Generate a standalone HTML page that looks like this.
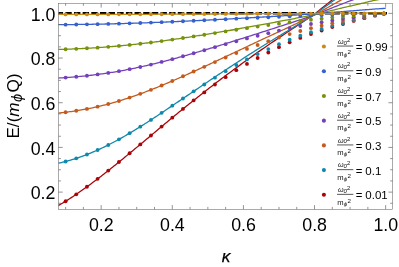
<!DOCTYPE html>
<html><head><meta charset="utf-8"><title>plot</title>
<style>html,body{margin:0;padding:0;background:#fff;}body{width:399px;height:267px;overflow:hidden;font-family:"Liberation Sans",sans-serif;}</style>
</head><body>
<svg width="399" height="267" viewBox="0 0 399 267" style="display:block;will-change:transform;transform:translateZ(0)">
<rect width="399" height="267" fill="#fff"/>
<line x1="58.50" y1="13.35" x2="386.95" y2="13.35" stroke="#000" stroke-width="2.5" stroke-dasharray="6.4 2.25" stroke-dashoffset="1.8"/>
<path d="M58.50,205.44 L59.92,204.64 L61.34,203.82 L62.77,202.99 L64.19,202.13 L65.61,201.26 L67.03,200.38 L68.45,199.48 L69.88,198.56 L71.30,197.63 L72.72,196.69 L74.14,195.74 L75.57,194.78 L76.99,193.81 L78.41,192.83 L79.83,191.84 L81.26,190.84 L82.68,189.84 L84.10,188.83 L85.52,187.81 L86.95,186.78 L88.37,185.74 L89.79,184.70 L91.21,183.65 L92.64,182.59 L94.06,181.53 L95.48,180.46 L96.90,179.39 L98.33,178.31 L99.75,177.23 L101.17,176.14 L102.59,175.04 L104.01,173.94 L105.44,172.83 L106.86,171.73 L108.28,170.61 L109.70,169.48 L111.13,168.35 L112.55,167.21 L113.97,166.07 L115.39,164.92 L116.82,163.77 L118.24,162.62 L119.66,161.46 L121.08,160.30 L122.51,159.14 L123.93,157.97 L125.35,156.79 L126.77,155.62 L128.20,154.44 L129.62,153.26 L131.04,152.09 L132.46,150.91 L133.89,149.74 L135.31,148.56 L136.73,147.38 L138.15,146.20 L139.57,145.01 L141.00,143.82 L142.42,142.64 L143.84,141.46 L145.26,140.27 L146.69,139.08 L148.11,137.89 L149.53,136.70 L150.95,135.50 L152.38,134.31 L153.80,133.12 L155.22,131.93 L156.64,130.74 L158.07,129.55 L159.49,128.35 L160.91,127.15 L162.33,125.96 L163.76,124.77 L165.18,123.59 L166.60,122.40 L168.02,121.21 L169.45,120.02 L170.87,118.83 L172.29,117.63 L173.71,116.47 L175.13,115.31 L176.56,114.15 L177.98,112.99 L179.40,111.83 L180.82,110.67 L182.25,109.51 L183.67,108.36 L185.09,107.22 L186.51,106.08 L187.94,104.94 L189.36,103.80 L190.78,102.67 L192.20,101.53 L193.63,100.39 L195.05,99.27 L196.47,98.15 L197.89,97.02 L199.32,95.90 L200.74,94.78 L202.16,93.66 L203.58,92.53 L205.01,91.42 L206.43,90.31 L207.85,89.21 L209.27,88.10 L210.69,87.00 L212.12,85.90 L213.54,84.79 L214.96,83.69 L216.38,82.61 L217.81,81.53 L219.23,80.46 L220.65,79.38 L222.07,78.31 L223.50,77.23 L224.92,76.16 L226.34,75.10 L227.76,74.04 L229.19,72.99 L230.61,71.94 L232.03,70.89 L233.45,69.84 L234.88,68.79 L236.30,67.75 L237.72,66.70 L239.14,65.66 L240.57,64.62 L241.99,63.57 L243.41,62.53 L244.83,61.50 L246.25,60.46 L247.68,59.43 L249.10,58.42 L250.52,57.40 L251.94,56.39 L253.37,55.38 L254.79,54.37 L256.21,53.36 L257.63,52.35 L259.06,51.37 L260.48,50.38 L261.90,49.40 L263.32,48.42 L264.75,47.44 L266.17,46.46 L267.59,45.49 L269.01,44.51 L270.44,43.54 L271.86,42.57 L273.28,41.60 L274.70,40.64 L276.13,39.67 L277.55,38.71 L278.97,37.75 L280.39,36.80 L281.81,35.85 L283.24,34.91 L284.66,33.97 L286.08,33.03 L287.50,32.09 L288.93,31.15 L290.35,30.20 L291.77,29.25 L293.19,28.30 L294.62,27.35 L296.04,26.40 L297.46,25.45 L298.88,24.50 L300.31,23.56 L301.73,22.61 L303.15,21.65 L304.57,20.70 L306.00,19.75 L307.42,18.81 L308.84,17.86 L310.26,16.92 L311.69,15.96 L313.11,14.98 L314.53,14.01 L315.95,12.97 L317.37,11.81 L318.80,10.65 L320.22,9.50 L321.64,8.34 L323.06,7.21 L324.49,6.08 L325.91,4.95 L327.33,3.82 L328.75,2.69 L330.18,1.56 L331.60,0.43 L333.02,-0.68 L334.44,-1.77 L335.87,-2.87 L337.29,-3.96 L338.71,-5.05 L340.13,-6.14 L341.56,-7.24 L342.98,-8.33 L344.40,-9.32 L345.82,-10.31 L347.25,-11.30 L348.67,-12.28 L350.09,-13.27 L351.51,-14.25 L352.93,-15.25 L354.36,-16.28 L355.78,-17.31 L357.20,-18.33 L358.62,-19.36 L360.05,-20.39 L361.47,-21.41 L362.89,-22.44 L364.31,-23.46 L365.74,-24.47 L367.16,-25.47 L368.58,-26.48 L370.00,-27.48 L371.43,-28.48 L372.85,-29.49 L374.27,-30.49 L375.69,-31.49 L377.12,-32.17 L378.54,-32.85 L379.96,-33.53 L381.38,-34.20 L382.81,-34.87 L384.23,-35.54 L385.65,-36.20" fill="none" stroke="#A90408" stroke-width="1.28" stroke-linejoin="round"/>
<circle cx="65.61" cy="201.26" r="1.92" fill="#A90408"/>
<circle cx="76.28" cy="194.30" r="1.92" fill="#A90408"/>
<circle cx="86.95" cy="186.78" r="1.92" fill="#A90408"/>
<circle cx="97.61" cy="178.85" r="1.92" fill="#A90408"/>
<circle cx="108.28" cy="170.61" r="1.92" fill="#A90408"/>
<circle cx="118.95" cy="162.04" r="1.92" fill="#A90408"/>
<circle cx="129.62" cy="153.26" r="1.92" fill="#A90408"/>
<circle cx="140.29" cy="144.41" r="1.92" fill="#A90408"/>
<circle cx="150.95" cy="135.50" r="1.92" fill="#A90408"/>
<circle cx="161.62" cy="126.55" r="1.92" fill="#A90408"/>
<circle cx="172.29" cy="117.63" r="1.92" fill="#A90408"/>
<circle cx="182.96" cy="108.92" r="1.92" fill="#A90408"/>
<circle cx="193.63" cy="100.39" r="1.92" fill="#A90408"/>
<circle cx="204.29" cy="92.40" r="1.92" fill="#A90408"/>
<circle cx="214.96" cy="84.54" r="1.92" fill="#A90408"/>
<circle cx="225.63" cy="77.19" r="1.92" fill="#A90408"/>
<circle cx="236.30" cy="70.20" r="1.92" fill="#A90408"/>
<circle cx="246.97" cy="63.93" r="1.92" fill="#A90408"/>
<circle cx="257.63" cy="58.03" r="1.92" fill="#A90408"/>
<circle cx="268.30" cy="52.47" r="1.92" fill="#A90408"/>
<circle cx="278.97" cy="47.19" r="1.92" fill="#A90408"/>
<circle cx="289.64" cy="42.25" r="1.92" fill="#A90408"/>
<circle cx="300.31" cy="37.88" r="1.92" fill="#A90408"/>
<circle cx="310.97" cy="34.00" r="1.92" fill="#A90408"/>
<circle cx="321.64" cy="30.52" r="1.92" fill="#A90408"/>
<circle cx="332.31" cy="27.02" r="1.92" fill="#A90408"/>
<circle cx="342.98" cy="24.06" r="1.92" fill="#A90408"/>
<circle cx="353.65" cy="20.94" r="1.92" fill="#A90408"/>
<circle cx="364.31" cy="18.15" r="1.92" fill="#A90408"/>
<circle cx="374.98" cy="15.65" r="1.92" fill="#A90408"/>
<circle cx="383.87" cy="13.79" r="1.92" fill="#A90408"/>
<path d="M58.50,163.13 L59.92,162.83 L61.34,162.51 L62.77,162.17 L64.19,161.83 L65.61,161.47 L67.03,161.09 L68.45,160.71 L69.88,160.31 L71.30,159.89 L72.72,159.47 L74.14,159.03 L75.57,158.57 L76.99,158.11 L78.41,157.63 L79.83,157.14 L81.26,156.64 L82.68,156.13 L84.10,155.60 L85.52,155.06 L86.95,154.52 L88.37,153.95 L89.79,153.38 L91.21,152.80 L92.64,152.20 L94.06,151.60 L95.48,150.98 L96.90,150.36 L98.33,149.72 L99.75,149.07 L101.17,148.41 L102.59,147.74 L104.01,147.06 L105.44,146.37 L106.86,145.68 L108.28,144.97 L109.70,144.25 L111.13,143.51 L112.55,142.77 L113.97,142.02 L115.39,141.26 L116.82,140.49 L118.24,139.71 L119.66,138.92 L121.08,138.13 L122.51,137.32 L123.93,136.51 L125.35,135.69 L126.77,134.86 L128.20,134.02 L129.62,133.18 L131.04,132.34 L132.46,131.49 L133.89,130.63 L135.31,129.77 L136.73,128.90 L138.15,128.03 L139.57,127.14 L141.00,126.26 L142.42,125.37 L143.84,124.47 L145.26,123.57 L146.69,122.67 L148.11,121.75 L149.53,120.83 L150.95,119.91 L152.38,118.99 L153.80,118.06 L155.22,117.13 L156.64,116.19 L158.07,115.25 L159.49,114.30 L160.91,113.35 L162.33,112.40 L163.76,111.45 L165.18,110.50 L166.60,109.54 L168.02,108.58 L169.45,107.62 L170.87,106.65 L172.29,105.68 L173.71,104.73 L175.13,103.77 L176.56,102.82 L177.98,101.86 L179.40,100.90 L180.82,99.94 L182.25,98.97 L183.67,98.01 L185.09,97.06 L186.51,96.10 L187.94,95.15 L189.36,94.19 L190.78,93.23 L192.20,92.27 L193.63,91.31 L195.05,90.35 L196.47,89.40 L197.89,88.44 L199.32,87.48 L200.74,86.52 L202.16,85.56 L203.58,84.60 L205.01,83.64 L206.43,82.69 L207.85,81.74 L209.27,80.78 L210.69,79.83 L212.12,78.87 L213.54,77.91 L214.96,76.96 L216.38,76.02 L217.81,75.08 L219.23,74.14 L220.65,73.20 L222.07,72.26 L223.50,71.32 L224.92,70.38 L226.34,69.44 L227.76,68.52 L229.19,67.59 L230.61,66.66 L232.03,65.74 L233.45,64.81 L234.88,63.88 L236.30,62.96 L237.72,62.03 L239.14,61.11 L240.57,60.18 L241.99,59.26 L243.41,58.33 L244.83,57.41 L246.25,56.49 L247.68,55.57 L249.10,54.66 L250.52,53.76 L251.94,52.85 L253.37,51.95 L254.79,51.04 L256.21,50.14 L257.63,49.24 L259.06,48.35 L260.48,47.47 L261.90,46.58 L263.32,45.70 L264.75,44.82 L266.17,43.94 L267.59,43.06 L269.01,42.18 L270.44,41.31 L271.86,40.43 L273.28,39.56 L274.70,38.68 L276.13,37.81 L277.55,36.94 L278.97,36.07 L280.39,35.21 L281.81,34.36 L283.24,33.50 L284.66,32.64 L286.08,31.79 L287.50,30.94 L288.93,30.09 L290.35,29.23 L291.77,28.36 L293.19,27.49 L294.62,26.63 L296.04,25.77 L297.46,24.90 L298.88,24.04 L300.31,23.18 L301.73,22.31 L303.15,21.45 L304.57,20.58 L306.00,19.71 L307.42,18.85 L308.84,17.99 L310.26,17.12 L311.69,16.25 L313.11,15.36 L314.53,14.47 L315.95,13.52 L317.37,12.47 L318.80,11.41 L320.22,10.36 L321.64,9.31 L323.06,8.28 L324.49,7.25 L325.91,6.22 L327.33,5.18 L328.75,4.15 L330.18,3.12 L331.60,2.09 L333.02,1.07 L334.44,0.07 L335.87,-0.93 L337.29,-1.93 L338.71,-2.94 L340.13,-3.94 L341.56,-4.94 L342.98,-5.94 L344.40,-6.85 L345.82,-7.76 L347.25,-8.67 L348.67,-9.58 L350.09,-10.49 L351.51,-11.40 L352.93,-12.31 L354.36,-13.26 L355.78,-14.21 L357.20,-15.15 L358.62,-16.10 L360.05,-17.05 L361.47,-17.99 L362.89,-18.94 L364.31,-19.88 L365.74,-20.81 L367.16,-21.74 L368.58,-22.67 L370.00,-23.59 L371.43,-24.52 L372.85,-25.45 L374.27,-26.37 L375.69,-27.30 L377.12,-27.94 L378.54,-28.57 L379.96,-29.20 L381.38,-29.83 L382.81,-30.46 L384.23,-31.08 L385.65,-31.70" fill="none" stroke="#1088AC" stroke-width="1.28" stroke-linejoin="round"/>
<circle cx="65.61" cy="161.47" r="1.92" fill="#1088AC"/>
<circle cx="76.28" cy="158.34" r="1.92" fill="#1088AC"/>
<circle cx="86.95" cy="154.52" r="1.92" fill="#1088AC"/>
<circle cx="97.61" cy="150.04" r="1.92" fill="#1088AC"/>
<circle cx="108.28" cy="144.97" r="1.92" fill="#1088AC"/>
<circle cx="118.95" cy="139.32" r="1.92" fill="#1088AC"/>
<circle cx="129.62" cy="133.18" r="1.92" fill="#1088AC"/>
<circle cx="140.29" cy="126.70" r="1.92" fill="#1088AC"/>
<circle cx="150.95" cy="119.91" r="1.92" fill="#1088AC"/>
<circle cx="161.62" cy="112.87" r="1.92" fill="#1088AC"/>
<circle cx="172.29" cy="105.68" r="1.92" fill="#1088AC"/>
<circle cx="182.96" cy="98.49" r="1.92" fill="#1088AC"/>
<circle cx="193.63" cy="91.31" r="1.92" fill="#1088AC"/>
<circle cx="204.29" cy="84.46" r="1.92" fill="#1088AC"/>
<circle cx="214.96" cy="77.65" r="1.92" fill="#1088AC"/>
<circle cx="225.63" cy="71.20" r="1.92" fill="#1088AC"/>
<circle cx="236.30" cy="65.01" r="1.92" fill="#1088AC"/>
<circle cx="246.97" cy="59.41" r="1.92" fill="#1088AC"/>
<circle cx="257.63" cy="54.10" r="1.92" fill="#1088AC"/>
<circle cx="268.30" cy="49.07" r="1.92" fill="#1088AC"/>
<circle cx="278.97" cy="44.28" r="1.92" fill="#1088AC"/>
<circle cx="289.64" cy="39.79" r="1.92" fill="#1088AC"/>
<circle cx="300.31" cy="35.79" r="1.92" fill="#1088AC"/>
<circle cx="310.97" cy="32.24" r="1.92" fill="#1088AC"/>
<circle cx="321.64" cy="29.04" r="1.92" fill="#1088AC"/>
<circle cx="332.31" cy="25.84" r="1.92" fill="#1088AC"/>
<circle cx="342.98" cy="23.13" r="1.92" fill="#1088AC"/>
<circle cx="353.65" cy="20.27" r="1.92" fill="#1088AC"/>
<circle cx="364.31" cy="17.73" r="1.92" fill="#1088AC"/>
<circle cx="374.98" cy="15.45" r="1.92" fill="#1088AC"/>
<circle cx="383.87" cy="13.75" r="1.92" fill="#1088AC"/>
<path d="M58.50,113.04 L59.92,112.90 L61.34,112.75 L62.77,112.60 L64.19,112.44 L65.61,112.27 L67.03,112.09 L68.45,111.91 L69.88,111.72 L71.30,111.53 L72.72,111.32 L74.14,111.11 L75.57,110.90 L76.99,110.67 L78.41,110.44 L79.83,110.21 L81.26,109.96 L82.68,109.71 L84.10,109.45 L85.52,109.19 L86.95,108.92 L88.37,108.64 L89.79,108.36 L91.21,108.06 L92.64,107.77 L94.06,107.46 L95.48,107.15 L96.90,106.83 L98.33,106.50 L99.75,106.17 L101.17,105.83 L102.59,105.48 L104.01,105.13 L105.44,104.77 L106.86,104.40 L108.28,104.03 L109.70,103.65 L111.13,103.26 L112.55,102.86 L113.97,102.46 L115.39,102.04 L116.82,101.63 L118.24,101.20 L119.66,100.77 L121.08,100.34 L122.51,99.89 L123.93,99.44 L125.35,98.98 L126.77,98.52 L128.20,98.05 L129.62,97.57 L131.04,97.10 L132.46,96.61 L133.89,96.12 L135.31,95.63 L136.73,95.12 L138.15,94.62 L139.57,94.10 L141.00,93.58 L142.42,93.06 L143.84,92.53 L145.26,92.00 L146.69,91.46 L148.11,90.91 L149.53,90.36 L150.95,89.81 L152.38,89.25 L153.80,88.69 L155.22,88.12 L156.64,87.54 L158.07,86.97 L159.49,86.38 L160.91,85.79 L162.33,85.20 L163.76,84.61 L165.18,84.01 L166.60,83.41 L168.02,82.80 L169.45,82.19 L170.87,81.58 L172.29,80.96 L173.71,80.35 L175.13,79.73 L176.56,79.12 L177.98,78.50 L179.40,77.87 L180.82,77.24 L182.25,76.61 L183.67,75.98 L185.09,75.35 L186.51,74.72 L187.94,74.09 L189.36,73.45 L190.78,72.81 L192.20,72.17 L193.63,71.52 L195.05,70.88 L196.47,70.23 L197.89,69.58 L199.32,68.93 L200.74,68.28 L202.16,67.62 L203.58,66.96 L205.01,66.31 L206.43,65.65 L207.85,64.99 L209.27,64.33 L210.69,63.67 L212.12,63.00 L213.54,62.33 L214.96,61.67 L216.38,61.01 L217.81,60.34 L219.23,59.68 L220.65,59.02 L222.07,58.35 L223.50,57.68 L224.92,57.01 L226.34,56.35 L227.76,55.68 L229.19,55.02 L230.61,54.35 L232.03,53.69 L233.45,53.02 L234.88,52.35 L236.30,51.68 L237.72,51.01 L239.14,50.34 L240.57,49.66 L241.99,48.99 L243.41,48.31 L244.83,47.64 L246.25,46.96 L247.68,46.29 L249.10,45.62 L250.52,44.95 L251.94,44.28 L253.37,43.61 L254.79,42.94 L256.21,42.27 L257.63,41.60 L259.06,40.93 L260.48,40.27 L261.90,39.61 L263.32,38.95 L264.75,38.29 L266.17,37.63 L267.59,36.97 L269.01,36.30 L270.44,35.64 L271.86,34.98 L273.28,34.32 L274.70,33.66 L276.13,32.99 L277.55,32.33 L278.97,31.67 L280.39,31.02 L281.81,30.36 L283.24,29.71 L284.66,29.05 L286.08,28.40 L287.50,27.74 L288.93,27.09 L290.35,26.43 L291.77,25.76 L293.19,25.10 L294.62,24.43 L296.04,23.76 L297.46,23.10 L298.88,22.43 L300.31,21.77 L301.73,21.09 L303.15,20.42 L304.57,19.75 L306.00,19.08 L307.42,18.41 L308.84,17.74 L310.26,17.06 L311.69,16.38 L313.11,15.69 L314.53,14.99 L315.95,14.26 L317.37,13.44 L318.80,12.62 L320.22,11.81 L321.64,10.99 L323.06,10.18 L324.49,9.38 L325.91,8.58 L327.33,7.77 L328.75,6.96 L330.18,6.15 L331.60,5.34 L333.02,4.54 L334.44,3.76 L335.87,2.97 L337.29,2.18 L338.71,1.39 L340.13,0.60 L341.56,-0.19 L342.98,-0.98 L344.40,-1.71 L345.82,-2.43 L347.25,-3.15 L348.67,-3.88 L350.09,-4.60 L351.51,-5.33 L352.93,-6.06 L354.36,-6.81 L355.78,-7.57 L357.20,-8.32 L358.62,-9.08 L360.05,-9.84 L361.47,-10.59 L362.89,-11.35 L364.31,-12.11 L365.74,-12.85 L367.16,-13.60 L368.58,-14.34 L370.00,-15.09 L371.43,-15.83 L372.85,-16.58 L374.27,-17.32 L375.69,-18.07 L377.12,-18.59 L378.54,-19.12 L379.96,-19.63 L381.38,-20.15 L382.81,-20.67 L384.23,-21.18 L385.65,-21.69" fill="none" stroke="#C25C1E" stroke-width="1.28" stroke-linejoin="round"/>
<circle cx="65.61" cy="112.27" r="1.92" fill="#C25C1E"/>
<circle cx="76.28" cy="110.79" r="1.92" fill="#C25C1E"/>
<circle cx="86.95" cy="108.92" r="1.92" fill="#C25C1E"/>
<circle cx="97.61" cy="106.67" r="1.92" fill="#C25C1E"/>
<circle cx="108.28" cy="104.03" r="1.92" fill="#C25C1E"/>
<circle cx="118.95" cy="100.99" r="1.92" fill="#C25C1E"/>
<circle cx="129.62" cy="97.57" r="1.92" fill="#C25C1E"/>
<circle cx="140.29" cy="93.84" r="1.92" fill="#C25C1E"/>
<circle cx="150.95" cy="89.81" r="1.92" fill="#C25C1E"/>
<circle cx="161.62" cy="85.50" r="1.92" fill="#C25C1E"/>
<circle cx="172.29" cy="80.96" r="1.92" fill="#C25C1E"/>
<circle cx="182.96" cy="76.29" r="1.92" fill="#C25C1E"/>
<circle cx="193.63" cy="71.52" r="1.92" fill="#C25C1E"/>
<circle cx="204.29" cy="66.85" r="1.92" fill="#C25C1E"/>
<circle cx="214.96" cy="62.12" r="1.92" fill="#C25C1E"/>
<circle cx="225.63" cy="57.54" r="1.92" fill="#C25C1E"/>
<circle cx="236.30" cy="53.07" r="1.92" fill="#C25C1E"/>
<circle cx="246.97" cy="48.94" r="1.92" fill="#C25C1E"/>
<circle cx="257.63" cy="44.98" r="1.92" fill="#C25C1E"/>
<circle cx="268.30" cy="41.18" r="1.92" fill="#C25C1E"/>
<circle cx="278.97" cy="37.53" r="1.92" fill="#C25C1E"/>
<circle cx="289.64" cy="34.08" r="1.92" fill="#C25C1E"/>
<circle cx="300.31" cy="30.97" r="1.92" fill="#C25C1E"/>
<circle cx="310.97" cy="28.19" r="1.92" fill="#C25C1E"/>
<circle cx="321.64" cy="25.67" r="1.92" fill="#C25C1E"/>
<circle cx="332.31" cy="23.15" r="1.92" fill="#C25C1E"/>
<circle cx="342.98" cy="21.01" r="1.92" fill="#C25C1E"/>
<circle cx="353.65" cy="18.77" r="1.92" fill="#C25C1E"/>
<circle cx="364.31" cy="16.77" r="1.92" fill="#C25C1E"/>
<circle cx="374.98" cy="14.99" r="1.92" fill="#C25C1E"/>
<circle cx="383.87" cy="13.66" r="1.92" fill="#C25C1E"/>
<path d="M58.50,78.04 L59.92,77.96 L61.34,77.88 L62.77,77.79 L64.19,77.70 L65.61,77.61 L67.03,77.51 L68.45,77.41 L69.88,77.30 L71.30,77.19 L72.72,77.08 L74.14,76.96 L75.57,76.84 L76.99,76.71 L78.41,76.58 L79.83,76.45 L81.26,76.31 L82.68,76.17 L84.10,76.03 L85.52,75.88 L86.95,75.72 L88.37,75.57 L89.79,75.41 L91.21,75.24 L92.64,75.07 L94.06,74.90 L95.48,74.72 L96.90,74.54 L98.33,74.35 L99.75,74.16 L101.17,73.97 L102.59,73.77 L104.01,73.57 L105.44,73.36 L106.86,73.15 L108.28,72.93 L109.70,72.71 L111.13,72.49 L112.55,72.26 L113.97,72.03 L115.39,71.79 L116.82,71.55 L118.24,71.30 L119.66,71.05 L121.08,70.79 L122.51,70.54 L123.93,70.27 L125.35,70.01 L126.77,69.73 L128.20,69.46 L129.62,69.18 L131.04,68.90 L132.46,68.61 L133.89,68.32 L135.31,68.03 L136.73,67.73 L138.15,67.43 L139.57,67.12 L141.00,66.82 L142.42,66.50 L143.84,66.19 L145.26,65.87 L146.69,65.55 L148.11,65.22 L149.53,64.89 L150.95,64.55 L152.38,64.22 L153.80,63.88 L155.22,63.53 L156.64,63.18 L158.07,62.83 L159.49,62.48 L160.91,62.12 L162.33,61.76 L163.76,61.40 L165.18,61.03 L166.60,60.66 L168.02,60.29 L169.45,59.91 L170.87,59.53 L172.29,59.15 L173.71,58.77 L175.13,58.39 L176.56,58.01 L177.98,57.62 L179.40,57.23 L180.82,56.84 L182.25,56.45 L183.67,56.05 L185.09,55.66 L186.51,55.26 L187.94,54.86 L189.36,54.46 L190.78,54.06 L192.20,53.65 L193.63,53.24 L195.05,52.83 L196.47,52.42 L197.89,52.01 L199.32,51.59 L200.74,51.17 L202.16,50.75 L203.58,50.33 L205.01,49.91 L206.43,49.48 L207.85,49.06 L209.27,48.63 L210.69,48.20 L212.12,47.77 L213.54,47.34 L214.96,46.90 L216.38,46.47 L217.81,46.04 L219.23,45.61 L220.65,45.18 L222.07,44.74 L223.50,44.30 L224.92,43.86 L226.34,43.42 L227.76,42.98 L229.19,42.54 L230.61,42.10 L232.03,41.66 L233.45,41.22 L234.88,40.77 L236.30,40.33 L237.72,39.88 L239.14,39.43 L240.57,38.98 L241.99,38.53 L243.41,38.08 L244.83,37.62 L246.25,37.17 L247.68,36.71 L249.10,36.26 L250.52,35.81 L251.94,35.36 L253.37,34.90 L254.79,34.45 L256.21,33.99 L257.63,33.54 L259.06,33.09 L260.48,32.64 L261.90,32.18 L263.32,31.73 L264.75,31.28 L266.17,30.82 L267.59,30.37 L269.01,29.91 L270.44,29.46 L271.86,29.00 L273.28,28.55 L274.70,28.09 L276.13,27.63 L277.55,27.17 L278.97,26.71 L280.39,26.26 L281.81,25.80 L283.24,25.35 L284.66,24.89 L286.08,24.43 L287.50,23.98 L288.93,23.52 L290.35,23.06 L291.77,22.59 L293.19,22.12 L294.62,21.65 L296.04,21.19 L297.46,20.72 L298.88,20.25 L300.31,19.78 L301.73,19.31 L303.15,18.83 L304.57,18.36 L306.00,17.88 L307.42,17.40 L308.84,16.93 L310.26,16.45 L311.69,15.97 L313.11,15.47 L314.53,14.98 L315.95,14.46 L317.37,13.88 L318.80,13.30 L320.22,12.72 L321.64,12.14 L323.06,11.56 L324.49,10.99 L325.91,10.42 L327.33,9.84 L328.75,9.27 L330.18,8.69 L331.60,8.11 L333.02,7.53 L334.44,6.97 L335.87,6.40 L337.29,5.83 L338.71,5.26 L340.13,4.69 L341.56,4.12 L342.98,3.55 L344.40,3.02 L345.82,2.50 L347.25,1.97 L348.67,1.45 L350.09,0.92 L351.51,0.39 L352.93,-0.14 L354.36,-0.69 L355.78,-1.24 L357.20,-1.80 L358.62,-2.35 L360.05,-2.90 L361.47,-3.46 L362.89,-4.01 L364.31,-4.57 L365.74,-5.11 L367.16,-5.66 L368.58,-6.21 L370.00,-6.76 L371.43,-7.31 L372.85,-7.86 L374.27,-8.41 L375.69,-8.96 L377.12,-9.35 L378.54,-9.74 L379.96,-10.13 L381.38,-10.52 L382.81,-10.91 L384.23,-11.29 L385.65,-11.68" fill="none" stroke="#7440BA" stroke-width="1.28" stroke-linejoin="round"/>
<circle cx="65.61" cy="77.61" r="1.92" fill="#7440BA"/>
<circle cx="76.28" cy="76.78" r="1.92" fill="#7440BA"/>
<circle cx="86.95" cy="75.72" r="1.92" fill="#7440BA"/>
<circle cx="97.61" cy="74.45" r="1.92" fill="#7440BA"/>
<circle cx="108.28" cy="72.93" r="1.92" fill="#7440BA"/>
<circle cx="118.95" cy="71.18" r="1.92" fill="#7440BA"/>
<circle cx="129.62" cy="69.18" r="1.92" fill="#7440BA"/>
<circle cx="140.29" cy="66.97" r="1.92" fill="#7440BA"/>
<circle cx="150.95" cy="64.55" r="1.92" fill="#7440BA"/>
<circle cx="161.62" cy="61.94" r="1.92" fill="#7440BA"/>
<circle cx="172.29" cy="59.15" r="1.92" fill="#7440BA"/>
<circle cx="182.96" cy="56.25" r="1.92" fill="#7440BA"/>
<circle cx="193.63" cy="53.24" r="1.92" fill="#7440BA"/>
<circle cx="204.29" cy="50.25" r="1.92" fill="#7440BA"/>
<circle cx="214.96" cy="47.19" r="1.92" fill="#7440BA"/>
<circle cx="225.63" cy="44.18" r="1.92" fill="#7440BA"/>
<circle cx="236.30" cy="41.21" r="1.92" fill="#7440BA"/>
<circle cx="246.97" cy="38.43" r="1.92" fill="#7440BA"/>
<circle cx="257.63" cy="35.74" r="1.92" fill="#7440BA"/>
<circle cx="268.30" cy="33.13" r="1.92" fill="#7440BA"/>
<circle cx="278.97" cy="30.60" r="1.92" fill="#7440BA"/>
<circle cx="289.64" cy="28.18" r="1.92" fill="#7440BA"/>
<circle cx="300.31" cy="25.99" r="1.92" fill="#7440BA"/>
<circle cx="310.97" cy="24.01" r="1.92" fill="#7440BA"/>
<circle cx="321.64" cy="22.21" r="1.92" fill="#7440BA"/>
<circle cx="332.31" cy="20.40" r="1.92" fill="#7440BA"/>
<circle cx="342.98" cy="18.86" r="1.92" fill="#7440BA"/>
<circle cx="353.65" cy="17.24" r="1.92" fill="#7440BA"/>
<circle cx="364.31" cy="15.81" r="1.92" fill="#7440BA"/>
<circle cx="374.98" cy="14.52" r="1.92" fill="#7440BA"/>
<circle cx="383.87" cy="13.57" r="1.92" fill="#7440BA"/>
<path d="M58.50,49.46 L59.92,49.42 L61.34,49.38 L62.77,49.34 L64.19,49.29 L65.61,49.24 L67.03,49.19 L68.45,49.14 L69.88,49.09 L71.30,49.03 L72.72,48.97 L74.14,48.91 L75.57,48.85 L76.99,48.79 L78.41,48.72 L79.83,48.65 L81.26,48.58 L82.68,48.51 L84.10,48.44 L85.52,48.36 L86.95,48.28 L88.37,48.20 L89.79,48.12 L91.21,48.03 L92.64,47.95 L94.06,47.86 L95.48,47.77 L96.90,47.67 L98.33,47.58 L99.75,47.48 L101.17,47.38 L102.59,47.28 L104.01,47.17 L105.44,47.07 L106.86,46.96 L108.28,46.85 L109.70,46.73 L111.13,46.62 L112.55,46.50 L113.97,46.38 L115.39,46.26 L116.82,46.13 L118.24,46.00 L119.66,45.87 L121.08,45.74 L122.51,45.61 L123.93,45.47 L125.35,45.33 L126.77,45.19 L128.20,45.04 L129.62,44.90 L131.04,44.75 L132.46,44.60 L133.89,44.45 L135.31,44.30 L136.73,44.14 L138.15,43.98 L139.57,43.82 L141.00,43.66 L142.42,43.50 L143.84,43.33 L145.26,43.16 L146.69,42.99 L148.11,42.82 L149.53,42.65 L150.95,42.47 L152.38,42.29 L153.80,42.11 L155.22,41.93 L156.64,41.75 L158.07,41.56 L159.49,41.37 L160.91,41.18 L162.33,40.99 L163.76,40.80 L165.18,40.60 L166.60,40.40 L168.02,40.20 L169.45,40.00 L170.87,39.80 L172.29,39.59 L173.71,39.39 L175.13,39.19 L176.56,38.98 L177.98,38.77 L179.40,38.57 L180.82,38.35 L182.25,38.14 L183.67,37.93 L185.09,37.71 L186.51,37.50 L187.94,37.28 L189.36,37.07 L190.78,36.85 L192.20,36.62 L193.63,36.40 L195.05,36.18 L196.47,35.95 L197.89,35.73 L199.32,35.50 L200.74,35.27 L202.16,35.04 L203.58,34.81 L205.01,34.58 L206.43,34.35 L207.85,34.11 L209.27,33.88 L210.69,33.64 L212.12,33.40 L213.54,33.16 L214.96,32.92 L216.38,32.69 L217.81,32.45 L219.23,32.21 L220.65,31.96 L222.07,31.72 L223.50,31.48 L224.92,31.23 L226.34,30.99 L227.76,30.74 L229.19,30.50 L230.61,30.25 L232.03,30.00 L233.45,29.75 L234.88,29.50 L236.30,29.25 L237.72,29.00 L239.14,28.75 L240.57,28.49 L241.99,28.24 L243.41,27.98 L244.83,27.73 L246.25,27.47 L247.68,27.21 L249.10,26.95 L250.52,26.70 L251.94,26.44 L253.37,26.18 L254.79,25.92 L256.21,25.66 L257.63,25.40 L259.06,25.14 L260.48,24.88 L261.90,24.62 L263.32,24.36 L264.75,24.10 L266.17,23.84 L267.59,23.58 L269.01,23.32 L270.44,23.05 L271.86,22.79 L273.28,22.53 L274.70,22.26 L276.13,22.00 L277.55,21.73 L278.97,21.46 L280.39,21.20 L281.81,20.93 L283.24,20.67 L284.66,20.40 L286.08,20.13 L287.50,19.87 L288.93,19.60 L290.35,19.33 L291.77,19.05 L293.19,18.78 L294.62,18.51 L296.04,18.23 L297.46,17.95 L298.88,17.68 L300.31,17.40 L301.73,17.12 L303.15,16.84 L304.57,16.56 L306.00,16.28 L307.42,16.00 L308.84,15.71 L310.26,15.43 L311.69,15.14 L313.11,14.85 L314.53,14.56 L315.95,14.24 L317.37,13.90 L318.80,13.56 L320.22,13.21 L321.64,12.87 L323.06,12.53 L324.49,12.18 L325.91,11.84 L327.33,11.50 L328.75,11.15 L330.18,10.81 L331.60,10.46 L333.02,10.11 L334.44,9.77 L335.87,9.43 L337.29,9.09 L338.71,8.75 L340.13,8.40 L341.56,8.06 L342.98,7.71 L344.40,7.39 L345.82,7.07 L347.25,6.75 L348.67,6.43 L350.09,6.11 L351.51,5.79 L352.93,5.46 L354.36,5.13 L355.78,4.79 L357.20,4.45 L358.62,4.11 L360.05,3.78 L361.47,3.44 L362.89,3.10 L364.31,2.76 L365.74,2.42 L367.16,2.08 L368.58,1.74 L370.00,1.41 L371.43,1.07 L372.85,0.73 L374.27,0.39 L375.69,0.05 L377.12,-0.20 L378.54,-0.45 L379.96,-0.69 L381.38,-0.94 L382.81,-1.18 L384.23,-1.42 L385.65,-1.67" fill="none" stroke="#76920C" stroke-width="1.28" stroke-linejoin="round"/>
<circle cx="65.61" cy="49.24" r="1.92" fill="#76920C"/>
<circle cx="76.28" cy="48.82" r="1.92" fill="#76920C"/>
<circle cx="86.95" cy="48.28" r="1.92" fill="#76920C"/>
<circle cx="97.61" cy="47.63" r="1.92" fill="#76920C"/>
<circle cx="108.28" cy="46.85" r="1.92" fill="#76920C"/>
<circle cx="118.95" cy="45.94" r="1.92" fill="#76920C"/>
<circle cx="129.62" cy="44.90" r="1.92" fill="#76920C"/>
<circle cx="140.29" cy="43.74" r="1.92" fill="#76920C"/>
<circle cx="150.95" cy="42.47" r="1.92" fill="#76920C"/>
<circle cx="161.62" cy="41.08" r="1.92" fill="#76920C"/>
<circle cx="172.29" cy="39.59" r="1.92" fill="#76920C"/>
<circle cx="182.96" cy="38.03" r="1.92" fill="#76920C"/>
<circle cx="193.63" cy="36.40" r="1.92" fill="#76920C"/>
<circle cx="204.29" cy="34.77" r="1.92" fill="#76920C"/>
<circle cx="214.96" cy="33.08" r="1.92" fill="#76920C"/>
<circle cx="225.63" cy="31.41" r="1.92" fill="#76920C"/>
<circle cx="236.30" cy="29.74" r="1.92" fill="#76920C"/>
<circle cx="246.97" cy="28.16" r="1.92" fill="#76920C"/>
<circle cx="257.63" cy="26.62" r="1.92" fill="#76920C"/>
<circle cx="268.30" cy="25.12" r="1.92" fill="#76920C"/>
<circle cx="278.97" cy="23.65" r="1.92" fill="#76920C"/>
<circle cx="289.64" cy="22.24" r="1.92" fill="#76920C"/>
<circle cx="300.31" cy="20.94" r="1.92" fill="#76920C"/>
<circle cx="310.97" cy="19.76" r="1.92" fill="#76920C"/>
<circle cx="321.64" cy="18.68" r="1.92" fill="#76920C"/>
<circle cx="332.31" cy="17.60" r="1.92" fill="#76920C"/>
<circle cx="342.98" cy="16.67" r="1.92" fill="#76920C"/>
<circle cx="353.65" cy="15.70" r="1.92" fill="#76920C"/>
<circle cx="364.31" cy="14.83" r="1.92" fill="#76920C"/>
<circle cx="374.98" cy="14.05" r="1.92" fill="#76920C"/>
<circle cx="383.87" cy="13.48" r="1.92" fill="#76920C"/>
<path d="M58.50,24.70 L59.92,24.69 L61.34,24.68 L62.77,24.67 L64.19,24.65 L65.61,24.64 L67.03,24.62 L68.45,24.61 L69.88,24.59 L71.30,24.58 L72.72,24.56 L74.14,24.54 L75.57,24.52 L76.99,24.50 L78.41,24.48 L79.83,24.46 L81.26,24.44 L82.68,24.42 L84.10,24.40 L85.52,24.38 L86.95,24.36 L88.37,24.33 L89.79,24.31 L91.21,24.28 L92.64,24.26 L94.06,24.23 L95.48,24.20 L96.90,24.18 L98.33,24.15 L99.75,24.12 L101.17,24.09 L102.59,24.06 L104.01,24.03 L105.44,24.00 L106.86,23.96 L108.28,23.93 L109.70,23.90 L111.13,23.86 L112.55,23.83 L113.97,23.79 L115.39,23.75 L116.82,23.72 L118.24,23.68 L119.66,23.64 L121.08,23.60 L122.51,23.56 L123.93,23.52 L125.35,23.48 L126.77,23.44 L128.20,23.39 L129.62,23.35 L131.04,23.31 L132.46,23.26 L133.89,23.22 L135.31,23.17 L136.73,23.12 L138.15,23.08 L139.57,23.03 L141.00,22.98 L142.42,22.93 L143.84,22.88 L145.26,22.83 L146.69,22.78 L148.11,22.73 L149.53,22.67 L150.95,22.62 L152.38,22.57 L153.80,22.51 L155.22,22.46 L156.64,22.40 L158.07,22.35 L159.49,22.29 L160.91,22.23 L162.33,22.17 L163.76,22.12 L165.18,22.06 L166.60,22.00 L168.02,21.94 L169.45,21.88 L170.87,21.81 L172.29,21.75 L173.71,21.69 L175.13,21.63 L176.56,21.56 L177.98,21.50 L179.40,21.44 L180.82,21.37 L182.25,21.31 L183.67,21.24 L185.09,21.18 L186.51,21.11 L187.94,21.05 L189.36,20.98 L190.78,20.91 L192.20,20.84 L193.63,20.78 L195.05,20.71 L196.47,20.64 L197.89,20.57 L199.32,20.50 L200.74,20.43 L202.16,20.36 L203.58,20.29 L205.01,20.21 L206.43,20.14 L207.85,20.07 L209.27,20.00 L210.69,19.92 L212.12,19.85 L213.54,19.78 L214.96,19.70 L216.38,19.63 L217.81,19.55 L219.23,19.48 L220.65,19.40 L222.07,19.33 L223.50,19.25 L224.92,19.17 L226.34,19.10 L227.76,19.02 L229.19,18.94 L230.61,18.87 L232.03,18.79 L233.45,18.71 L234.88,18.63 L236.30,18.55 L237.72,18.47 L239.14,18.39 L240.57,18.31 L241.99,18.23 L243.41,18.15 L244.83,18.07 L246.25,17.99 L247.68,17.91 L249.10,17.83 L250.52,17.75 L251.94,17.66 L253.37,17.58 L254.79,17.50 L256.21,17.42 L257.63,17.33 L259.06,17.25 L260.48,17.17 L261.90,17.09 L263.32,17.00 L264.75,16.92 L266.17,16.84 L267.59,16.75 L269.01,16.67 L270.44,16.58 L271.86,16.50 L273.28,16.41 L274.70,16.33 L276.13,16.24 L277.55,16.16 L278.97,16.07 L280.39,15.99 L281.81,15.90 L283.24,15.81 L284.66,15.73 L286.08,15.64 L287.50,15.55 L288.93,15.47 L290.35,15.38 L291.77,15.29 L293.19,15.20 L294.62,15.11 L296.04,15.02 L297.46,14.93 L298.88,14.84 L300.31,14.75 L301.73,14.66 L303.15,14.57 L304.57,14.48 L306.00,14.38 L307.42,14.29 L308.84,14.20 L310.26,14.10 L311.69,14.01 L313.11,13.91 L314.53,13.82 L315.95,13.71 L317.37,13.60 L318.80,13.49 L320.22,13.37 L321.64,13.26 L323.06,13.15 L324.49,13.03 L325.91,12.92 L327.33,12.81 L328.75,12.69 L330.18,12.58 L331.60,12.46 L333.02,12.35 L334.44,12.23 L335.87,12.12 L337.29,12.01 L338.71,11.89 L340.13,11.78 L341.56,11.66 L342.98,11.54 L344.40,11.44 L345.82,11.33 L347.25,11.22 L348.67,11.11 L350.09,11.01 L351.51,10.90 L352.93,10.79 L354.36,10.67 L355.78,10.56 L357.20,10.44 L358.62,10.33 L360.05,10.22 L361.47,10.10 L362.89,9.98 L364.31,9.87 L365.74,9.75 L367.16,9.64 L368.58,9.52 L370.00,9.41 L371.43,9.29 L372.85,9.18 L374.27,9.06 L375.69,8.94 L377.12,8.86 L378.54,8.77 L379.96,8.68 L381.38,8.60 L382.81,8.51 L384.23,8.43 L385.65,8.34" fill="none" stroke="#3560CE" stroke-width="1.28" stroke-linejoin="round"/>
<circle cx="65.61" cy="24.64" r="1.92" fill="#3560CE"/>
<circle cx="76.28" cy="24.51" r="1.92" fill="#3560CE"/>
<circle cx="86.95" cy="24.36" r="1.92" fill="#3560CE"/>
<circle cx="97.61" cy="24.16" r="1.92" fill="#3560CE"/>
<circle cx="108.28" cy="23.93" r="1.92" fill="#3560CE"/>
<circle cx="118.95" cy="23.66" r="1.92" fill="#3560CE"/>
<circle cx="129.62" cy="23.35" r="1.92" fill="#3560CE"/>
<circle cx="140.29" cy="23.00" r="1.92" fill="#3560CE"/>
<circle cx="150.95" cy="22.62" r="1.92" fill="#3560CE"/>
<circle cx="161.62" cy="22.20" r="1.92" fill="#3560CE"/>
<circle cx="172.29" cy="21.75" r="1.92" fill="#3560CE"/>
<circle cx="182.96" cy="21.28" r="1.92" fill="#3560CE"/>
<circle cx="193.63" cy="20.78" r="1.92" fill="#3560CE"/>
<circle cx="204.29" cy="20.27" r="1.92" fill="#3560CE"/>
<circle cx="214.96" cy="19.75" r="1.92" fill="#3560CE"/>
<circle cx="225.63" cy="19.23" r="1.92" fill="#3560CE"/>
<circle cx="236.30" cy="18.70" r="1.92" fill="#3560CE"/>
<circle cx="246.97" cy="18.21" r="1.92" fill="#3560CE"/>
<circle cx="257.63" cy="17.72" r="1.92" fill="#3560CE"/>
<circle cx="268.30" cy="17.23" r="1.92" fill="#3560CE"/>
<circle cx="278.97" cy="16.76" r="1.92" fill="#3560CE"/>
<circle cx="289.64" cy="16.30" r="1.92" fill="#3560CE"/>
<circle cx="300.31" cy="15.88" r="1.92" fill="#3560CE"/>
<circle cx="310.97" cy="15.49" r="1.92" fill="#3560CE"/>
<circle cx="321.64" cy="15.13" r="1.92" fill="#3560CE"/>
<circle cx="332.31" cy="14.77" r="1.92" fill="#3560CE"/>
<circle cx="342.98" cy="14.46" r="1.92" fill="#3560CE"/>
<circle cx="353.65" cy="14.14" r="1.92" fill="#3560CE"/>
<circle cx="364.31" cy="13.85" r="1.92" fill="#3560CE"/>
<circle cx="374.98" cy="13.59" r="1.92" fill="#3560CE"/>
<circle cx="383.87" cy="13.39" r="1.92" fill="#3560CE"/>
<path d="M58.50,14.46 L59.92,14.46 L61.34,14.46 L62.77,14.46 L64.19,14.45 L65.61,14.45 L67.03,14.45 L68.45,14.45 L69.88,14.45 L71.30,14.45 L72.72,14.45 L74.14,14.44 L75.57,14.44 L76.99,14.44 L78.41,14.44 L79.83,14.44 L81.26,14.43 L82.68,14.43 L84.10,14.43 L85.52,14.43 L86.95,14.43 L88.37,14.42 L89.79,14.42 L91.21,14.42 L92.64,14.42 L94.06,14.41 L95.48,14.41 L96.90,14.41 L98.33,14.41 L99.75,14.40 L101.17,14.40 L102.59,14.40 L104.01,14.39 L105.44,14.39 L106.86,14.39 L108.28,14.39 L109.70,14.38 L111.13,14.38 L112.55,14.38 L113.97,14.37 L115.39,14.37 L116.82,14.36 L118.24,14.36 L119.66,14.36 L121.08,14.35 L122.51,14.35 L123.93,14.35 L125.35,14.34 L126.77,14.34 L128.20,14.33 L129.62,14.33 L131.04,14.33 L132.46,14.32 L133.89,14.32 L135.31,14.31 L136.73,14.31 L138.15,14.30 L139.57,14.30 L141.00,14.29 L142.42,14.29 L143.84,14.28 L145.26,14.28 L146.69,14.28 L148.11,14.27 L149.53,14.26 L150.95,14.26 L152.38,14.25 L153.80,14.25 L155.22,14.24 L156.64,14.24 L158.07,14.23 L159.49,14.23 L160.91,14.22 L162.33,14.22 L163.76,14.21 L165.18,14.21 L166.60,14.20 L168.02,14.19 L169.45,14.19 L170.87,14.18 L172.29,14.18 L173.71,14.17 L175.13,14.16 L176.56,14.16 L177.98,14.15 L179.40,14.15 L180.82,14.14 L182.25,14.13 L183.67,14.13 L185.09,14.12 L186.51,14.11 L187.94,14.11 L189.36,14.10 L190.78,14.10 L192.20,14.09 L193.63,14.08 L195.05,14.08 L196.47,14.07 L197.89,14.06 L199.32,14.06 L200.74,14.05 L202.16,14.04 L203.58,14.03 L205.01,14.03 L206.43,14.02 L207.85,14.01 L209.27,14.01 L210.69,14.00 L212.12,13.99 L213.54,13.98 L214.96,13.98 L216.38,13.97 L217.81,13.96 L219.23,13.96 L220.65,13.95 L222.07,13.94 L223.50,13.93 L224.92,13.93 L226.34,13.92 L227.76,13.91 L229.19,13.90 L230.61,13.90 L232.03,13.89 L233.45,13.88 L234.88,13.87 L236.30,13.87 L237.72,13.86 L239.14,13.85 L240.57,13.84 L241.99,13.83 L243.41,13.83 L244.83,13.82 L246.25,13.81 L247.68,13.80 L249.10,13.80 L250.52,13.79 L251.94,13.78 L253.37,13.77 L254.79,13.76 L256.21,13.75 L257.63,13.75 L259.06,13.74 L260.48,13.73 L261.90,13.72 L263.32,13.71 L264.75,13.71 L266.17,13.70 L267.59,13.69 L269.01,13.68 L270.44,13.67 L271.86,13.66 L273.28,13.66 L274.70,13.65 L276.13,13.64 L277.55,13.63 L278.97,13.62 L280.39,13.61 L281.81,13.61 L283.24,13.60 L284.66,13.59 L286.08,13.58 L287.50,13.57 L288.93,13.56 L290.35,13.55 L291.77,13.55 L293.19,13.54 L294.62,13.53 L296.04,13.52 L297.46,13.51 L298.88,13.50 L300.31,13.49 L301.73,13.48 L303.15,13.47 L304.57,13.46 L306.00,13.46 L307.42,13.45 L308.84,13.44 L310.26,13.43 L311.69,13.42 L313.11,13.41 L314.53,13.40 L315.95,13.39 L317.37,13.38 L318.80,13.37 L320.22,13.36 L321.64,13.34 L323.06,13.33 L324.49,13.32 L325.91,13.31 L327.33,13.30 L328.75,13.29 L330.18,13.28 L331.60,13.26 L333.02,13.25 L334.44,13.24 L335.87,13.23 L337.29,13.22 L338.71,13.21 L340.13,13.20 L341.56,13.18 L342.98,13.17 L344.40,13.16 L345.82,13.15 L347.25,13.14 L348.67,13.13 L350.09,13.12 L351.51,13.11 L352.93,13.10 L354.36,13.09 L355.78,13.07 L357.20,13.06 L358.62,13.05 L360.05,13.04 L361.47,13.03 L362.89,13.02 L364.31,13.00 L365.74,12.99 L367.16,12.98 L368.58,12.97 L370.00,12.96 L371.43,12.95 L372.85,12.93 L374.27,12.92 L375.69,12.91 L377.12,12.90 L378.54,12.89 L379.96,12.88 L381.38,12.88 L382.81,12.87 L384.23,12.86 L385.65,12.85" fill="none" stroke="#CC8A10" stroke-width="1.28" stroke-linejoin="round"/>
<circle cx="65.61" cy="14.45" r="1.92" fill="#CC8A10"/>
<circle cx="76.28" cy="14.44" r="1.92" fill="#CC8A10"/>
<circle cx="86.95" cy="14.43" r="1.92" fill="#CC8A10"/>
<circle cx="97.61" cy="14.41" r="1.92" fill="#CC8A10"/>
<circle cx="108.28" cy="14.39" r="1.92" fill="#CC8A10"/>
<circle cx="118.95" cy="14.36" r="1.92" fill="#CC8A10"/>
<circle cx="129.62" cy="14.33" r="1.92" fill="#CC8A10"/>
<circle cx="140.29" cy="14.30" r="1.92" fill="#CC8A10"/>
<circle cx="150.95" cy="14.26" r="1.92" fill="#CC8A10"/>
<circle cx="161.62" cy="14.22" r="1.92" fill="#CC8A10"/>
<circle cx="172.29" cy="14.18" r="1.92" fill="#CC8A10"/>
<circle cx="182.96" cy="14.13" r="1.92" fill="#CC8A10"/>
<circle cx="193.63" cy="14.08" r="1.92" fill="#CC8A10"/>
<circle cx="204.29" cy="14.03" r="1.92" fill="#CC8A10"/>
<circle cx="214.96" cy="13.98" r="1.92" fill="#CC8A10"/>
<circle cx="225.63" cy="13.93" r="1.92" fill="#CC8A10"/>
<circle cx="236.30" cy="13.88" r="1.92" fill="#CC8A10"/>
<circle cx="246.97" cy="13.83" r="1.92" fill="#CC8A10"/>
<circle cx="257.63" cy="13.78" r="1.92" fill="#CC8A10"/>
<circle cx="268.30" cy="13.74" r="1.92" fill="#CC8A10"/>
<circle cx="278.97" cy="13.69" r="1.92" fill="#CC8A10"/>
<circle cx="289.64" cy="13.64" r="1.92" fill="#CC8A10"/>
<circle cx="300.31" cy="13.60" r="1.92" fill="#CC8A10"/>
<circle cx="310.97" cy="13.56" r="1.92" fill="#CC8A10"/>
<circle cx="321.64" cy="13.53" r="1.92" fill="#CC8A10"/>
<circle cx="332.31" cy="13.49" r="1.92" fill="#CC8A10"/>
<circle cx="342.98" cy="13.46" r="1.92" fill="#CC8A10"/>
<circle cx="353.65" cy="13.43" r="1.92" fill="#CC8A10"/>
<circle cx="364.31" cy="13.40" r="1.92" fill="#CC8A10"/>
<circle cx="374.98" cy="13.37" r="1.92" fill="#CC8A10"/>
<circle cx="383.87" cy="13.35" r="1.92" fill="#CC8A10"/>
<rect x="58.5" y="3.4" width="334.10" height="205.90" fill="none" stroke="#666" stroke-width="0.55"/>
<path d="M65.61,209.3 v-2.4 M65.61,3.4 v2.4 M83.39,209.3 v-2.4 M83.39,3.4 v2.4 M101.17,209.3 v-4.2 M101.17,3.4 v4.2 M118.95,209.3 v-2.4 M118.95,3.4 v2.4 M136.73,209.3 v-2.4 M136.73,3.4 v2.4 M154.51,209.3 v-2.4 M154.51,3.4 v2.4 M172.29,209.3 v-4.2 M172.29,3.4 v4.2 M190.07,209.3 v-2.4 M190.07,3.4 v2.4 M207.85,209.3 v-2.4 M207.85,3.4 v2.4 M225.63,209.3 v-2.4 M225.63,3.4 v2.4 M243.41,209.3 v-4.2 M243.41,3.4 v4.2 M261.19,209.3 v-2.4 M261.19,3.4 v2.4 M278.97,209.3 v-2.4 M278.97,3.4 v2.4 M296.75,209.3 v-2.4 M296.75,3.4 v2.4 M314.53,209.3 v-4.2 M314.53,3.4 v4.2 M332.31,209.3 v-2.4 M332.31,3.4 v2.4 M350.09,209.3 v-2.4 M350.09,3.4 v2.4 M367.87,209.3 v-2.4 M367.87,3.4 v2.4 M385.65,209.3 v-4.2 M385.65,3.4 v4.2 M58.5,203.28 h2.4 M392.6,203.28 h-2.4 M58.5,192.11 h4.2 M392.6,192.11 h-4.2 M58.5,180.94 h2.4 M392.6,180.94 h-2.4 M58.5,169.76 h2.4 M392.6,169.76 h-2.4 M58.5,158.59 h2.4 M392.6,158.59 h-2.4 M58.5,147.42 h4.2 M392.6,147.42 h-4.2 M58.5,136.25 h2.4 M392.6,136.25 h-2.4 M58.5,125.07 h2.4 M392.6,125.07 h-2.4 M58.5,113.90 h2.4 M392.6,113.90 h-2.4 M58.5,102.73 h4.2 M392.6,102.73 h-4.2 M58.5,91.56 h2.4 M392.6,91.56 h-2.4 M58.5,80.38 h2.4 M392.6,80.38 h-2.4 M58.5,69.21 h2.4 M392.6,69.21 h-2.4 M58.5,58.04 h4.2 M392.6,58.04 h-4.2 M58.5,46.87 h2.4 M392.6,46.87 h-2.4 M58.5,35.69 h2.4 M392.6,35.69 h-2.4 M58.5,24.52 h2.4 M392.6,24.52 h-2.4 M58.5,13.35 h4.2 M392.6,13.35 h-4.2" stroke="#666" stroke-width="0.7" fill="none"/>
<text x="101.27" y="230.7" font-family="Liberation Sans, sans-serif" font-size="17.8" text-anchor="middle" fill="#000">0.2</text>
<text x="55.4" y="199.26" font-family="Liberation Sans, sans-serif" font-size="17.8" text-anchor="end" fill="#000">0.2</text>
<text x="172.39" y="230.7" font-family="Liberation Sans, sans-serif" font-size="17.8" text-anchor="middle" fill="#000">0.4</text>
<text x="55.4" y="154.57" font-family="Liberation Sans, sans-serif" font-size="17.8" text-anchor="end" fill="#000">0.4</text>
<text x="243.51" y="230.7" font-family="Liberation Sans, sans-serif" font-size="17.8" text-anchor="middle" fill="#000">0.6</text>
<text x="55.4" y="109.88" font-family="Liberation Sans, sans-serif" font-size="17.8" text-anchor="end" fill="#000">0.6</text>
<text x="314.63" y="230.7" font-family="Liberation Sans, sans-serif" font-size="17.8" text-anchor="middle" fill="#000">0.8</text>
<text x="55.4" y="65.19" font-family="Liberation Sans, sans-serif" font-size="17.8" text-anchor="end" fill="#000">0.8</text>
<text x="385.75" y="230.7" font-family="Liberation Sans, sans-serif" font-size="17.8" text-anchor="middle" fill="#000">1.0</text>
<text x="55.4" y="20.50" font-family="Liberation Sans, sans-serif" font-size="17.8" text-anchor="end" fill="#000">1.0</text>
<text x="226.1" y="261.9" font-family="Liberation Sans, sans-serif" font-size="17.3" font-style="italic" text-anchor="middle" fill="#000" stroke="#000" stroke-width="0.25">κ</text>
<text transform="translate(19,138.6) rotate(-90)" font-family="Liberation Sans, sans-serif" font-size="17.2" fill="#000">E/(<tspan font-style="italic">m</tspan><tspan font-style="italic" font-size="14.8" dy="3.4" dx="0.3">ϕ</tspan><tspan dy="-3.4" dx="1.2">Q)</tspan></text>
<circle cx="323.9" cy="46.50" r="2.05" fill="#CC8A10"/>
<line x1="337.0" x2="353.3" y1="46.05" y2="46.05" stroke="#222" stroke-width="0.75"/>
<text x="338" y="43.70" font-family="Liberation Sans, sans-serif" font-size="7.2" fill="#111"><tspan font-style="italic">ω</tspan><tspan font-style="italic" font-size="6.2" dy="0.8">0</tspan><tspan font-size="5.9" dy="-2.8">2</tspan></text>
<text x="337.2" y="56.20" font-family="Liberation Sans, sans-serif" font-size="7.6" fill="#111">m<tspan font-style="italic" font-size="6.1" dy="1.1" dx="0.2">ϕ</tspan><tspan font-size="6.2" dy="-3.1" dx="0.3">2</tspan></text>
<text x="355.7" y="51.15" font-family="Liberation Sans, sans-serif" font-size="11.4" fill="#000">=</text>
<text x="365.3" y="51.15" font-family="Liberation Sans, sans-serif" font-size="11.5" fill="#000">0.99</text>
<circle cx="323.9" cy="71.22" r="2.05" fill="#3560CE"/>
<line x1="337.0" x2="353.3" y1="70.77" y2="70.77" stroke="#222" stroke-width="0.75"/>
<text x="338" y="68.42" font-family="Liberation Sans, sans-serif" font-size="7.2" fill="#111"><tspan font-style="italic">ω</tspan><tspan font-style="italic" font-size="6.2" dy="0.8">0</tspan><tspan font-size="5.9" dy="-2.8">2</tspan></text>
<text x="337.2" y="80.92" font-family="Liberation Sans, sans-serif" font-size="7.6" fill="#111">m<tspan font-style="italic" font-size="6.1" dy="1.1" dx="0.2">ϕ</tspan><tspan font-size="6.2" dy="-3.1" dx="0.3">2</tspan></text>
<text x="355.7" y="75.87" font-family="Liberation Sans, sans-serif" font-size="11.4" fill="#000">=</text>
<text x="365.3" y="75.87" font-family="Liberation Sans, sans-serif" font-size="11.5" fill="#000">0.9</text>
<circle cx="323.9" cy="95.94" r="2.05" fill="#76920C"/>
<line x1="337.0" x2="353.3" y1="95.49" y2="95.49" stroke="#222" stroke-width="0.75"/>
<text x="338" y="93.14" font-family="Liberation Sans, sans-serif" font-size="7.2" fill="#111"><tspan font-style="italic">ω</tspan><tspan font-style="italic" font-size="6.2" dy="0.8">0</tspan><tspan font-size="5.9" dy="-2.8">2</tspan></text>
<text x="337.2" y="105.64" font-family="Liberation Sans, sans-serif" font-size="7.6" fill="#111">m<tspan font-style="italic" font-size="6.1" dy="1.1" dx="0.2">ϕ</tspan><tspan font-size="6.2" dy="-3.1" dx="0.3">2</tspan></text>
<text x="355.7" y="100.59" font-family="Liberation Sans, sans-serif" font-size="11.4" fill="#000">=</text>
<text x="365.3" y="100.59" font-family="Liberation Sans, sans-serif" font-size="11.5" fill="#000">0.7</text>
<circle cx="323.9" cy="120.66" r="2.05" fill="#7440BA"/>
<line x1="337.0" x2="353.3" y1="120.21" y2="120.21" stroke="#222" stroke-width="0.75"/>
<text x="338" y="117.86" font-family="Liberation Sans, sans-serif" font-size="7.2" fill="#111"><tspan font-style="italic">ω</tspan><tspan font-style="italic" font-size="6.2" dy="0.8">0</tspan><tspan font-size="5.9" dy="-2.8">2</tspan></text>
<text x="337.2" y="130.36" font-family="Liberation Sans, sans-serif" font-size="7.6" fill="#111">m<tspan font-style="italic" font-size="6.1" dy="1.1" dx="0.2">ϕ</tspan><tspan font-size="6.2" dy="-3.1" dx="0.3">2</tspan></text>
<text x="355.7" y="125.31" font-family="Liberation Sans, sans-serif" font-size="11.4" fill="#000">=</text>
<text x="365.3" y="125.31" font-family="Liberation Sans, sans-serif" font-size="11.5" fill="#000">0.5</text>
<circle cx="323.9" cy="145.38" r="2.05" fill="#C25C1E"/>
<line x1="337.0" x2="353.3" y1="144.93" y2="144.93" stroke="#222" stroke-width="0.75"/>
<text x="338" y="142.58" font-family="Liberation Sans, sans-serif" font-size="7.2" fill="#111"><tspan font-style="italic">ω</tspan><tspan font-style="italic" font-size="6.2" dy="0.8">0</tspan><tspan font-size="5.9" dy="-2.8">2</tspan></text>
<text x="337.2" y="155.08" font-family="Liberation Sans, sans-serif" font-size="7.6" fill="#111">m<tspan font-style="italic" font-size="6.1" dy="1.1" dx="0.2">ϕ</tspan><tspan font-size="6.2" dy="-3.1" dx="0.3">2</tspan></text>
<text x="355.7" y="150.03" font-family="Liberation Sans, sans-serif" font-size="11.4" fill="#000">=</text>
<text x="365.3" y="150.03" font-family="Liberation Sans, sans-serif" font-size="11.5" fill="#000">0.3</text>
<circle cx="323.9" cy="170.10" r="2.05" fill="#1088AC"/>
<line x1="337.0" x2="353.3" y1="169.65" y2="169.65" stroke="#222" stroke-width="0.75"/>
<text x="338" y="167.30" font-family="Liberation Sans, sans-serif" font-size="7.2" fill="#111"><tspan font-style="italic">ω</tspan><tspan font-style="italic" font-size="6.2" dy="0.8">0</tspan><tspan font-size="5.9" dy="-2.8">2</tspan></text>
<text x="337.2" y="179.80" font-family="Liberation Sans, sans-serif" font-size="7.6" fill="#111">m<tspan font-style="italic" font-size="6.1" dy="1.1" dx="0.2">ϕ</tspan><tspan font-size="6.2" dy="-3.1" dx="0.3">2</tspan></text>
<text x="355.7" y="174.75" font-family="Liberation Sans, sans-serif" font-size="11.4" fill="#000">=</text>
<text x="365.3" y="174.75" font-family="Liberation Sans, sans-serif" font-size="11.5" fill="#000">0.1</text>
<circle cx="323.9" cy="194.82" r="2.05" fill="#A90408"/>
<line x1="337.0" x2="353.3" y1="194.37" y2="194.37" stroke="#222" stroke-width="0.75"/>
<text x="338" y="192.02" font-family="Liberation Sans, sans-serif" font-size="7.2" fill="#111"><tspan font-style="italic">ω</tspan><tspan font-style="italic" font-size="6.2" dy="0.8">0</tspan><tspan font-size="5.9" dy="-2.8">2</tspan></text>
<text x="337.2" y="204.52" font-family="Liberation Sans, sans-serif" font-size="7.6" fill="#111">m<tspan font-style="italic" font-size="6.1" dy="1.1" dx="0.2">ϕ</tspan><tspan font-size="6.2" dy="-3.1" dx="0.3">2</tspan></text>
<text x="355.7" y="199.47" font-family="Liberation Sans, sans-serif" font-size="11.4" fill="#000">=</text>
<text x="365.3" y="199.47" font-family="Liberation Sans, sans-serif" font-size="11.5" fill="#000">0.01</text>
</svg>
</body></html>
